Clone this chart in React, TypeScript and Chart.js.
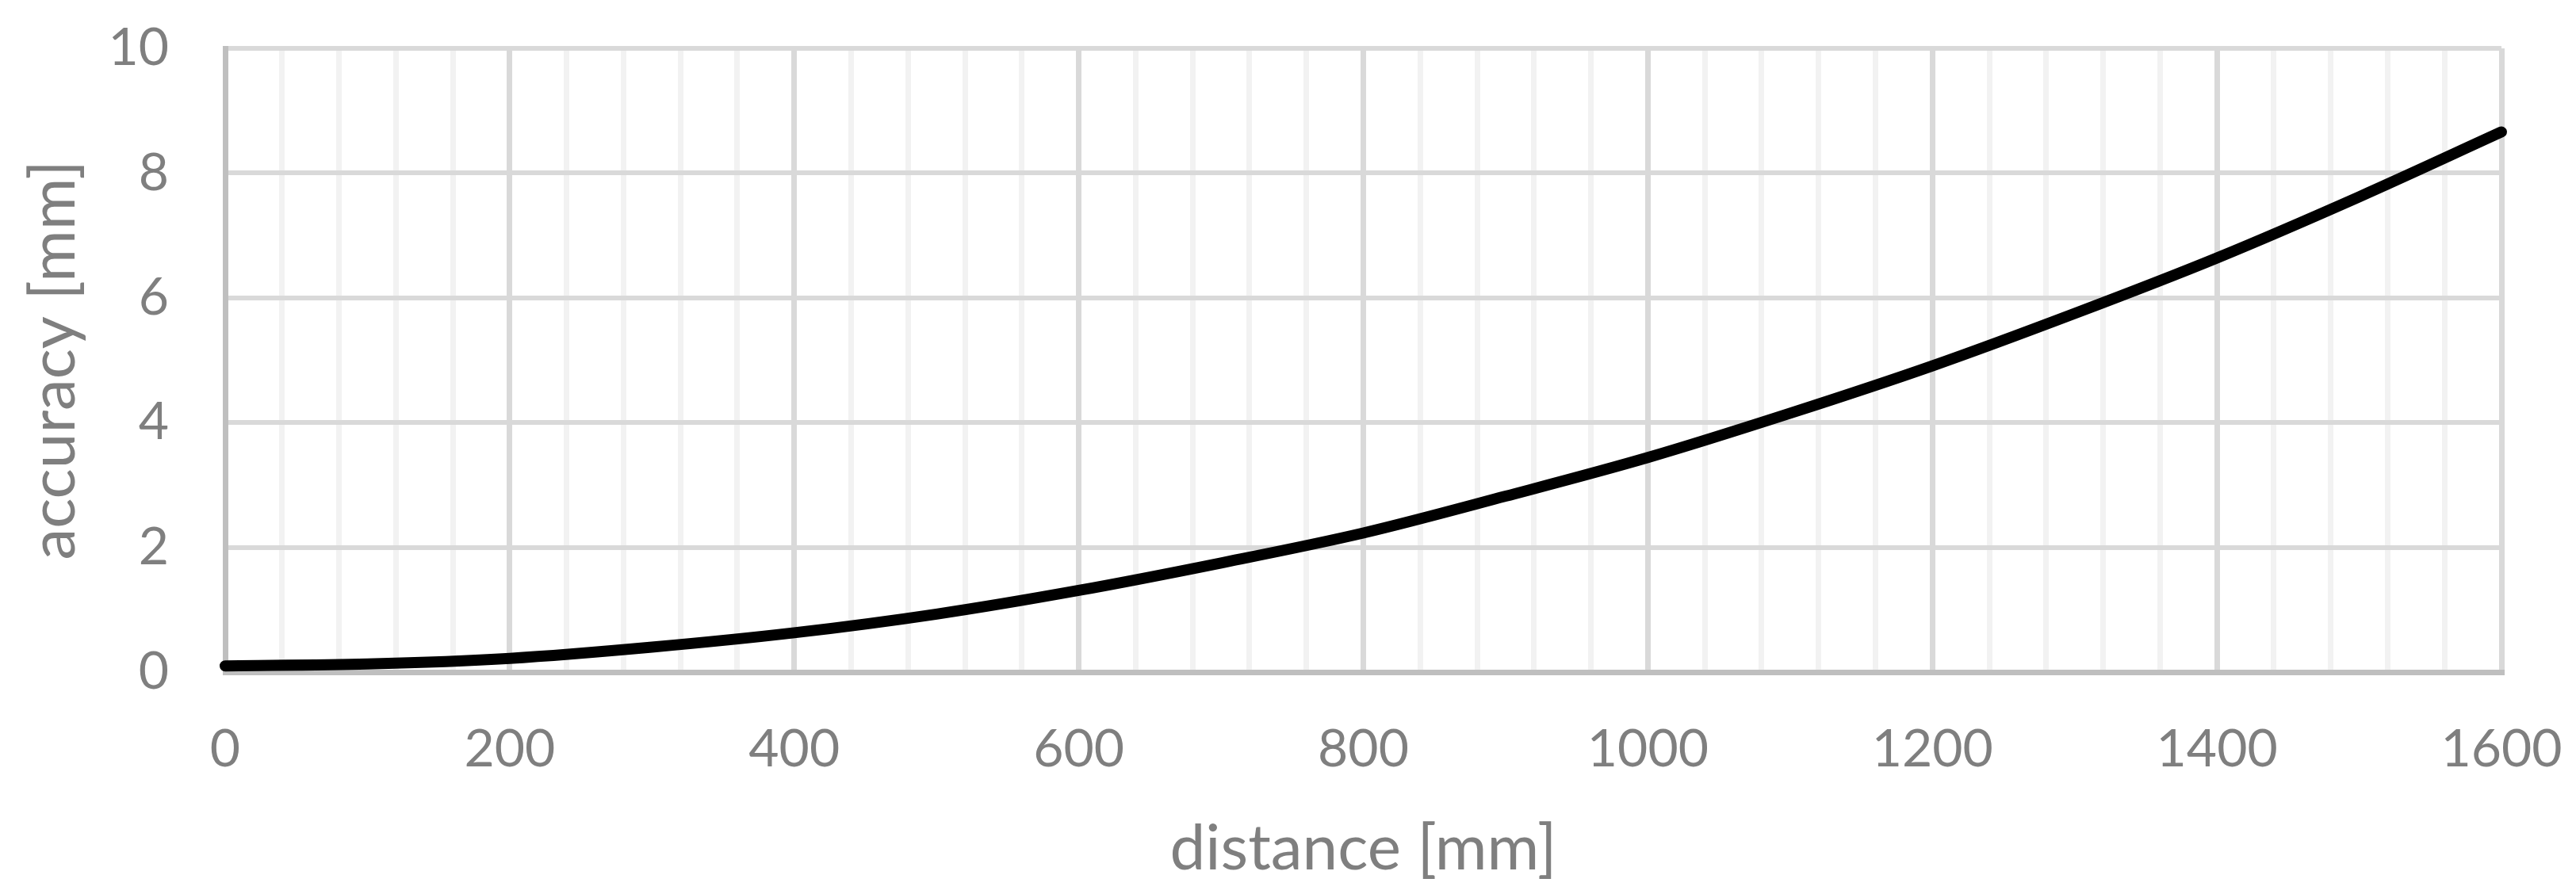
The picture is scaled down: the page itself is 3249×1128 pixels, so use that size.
import React, { useEffect, useRef } from "react";
import { Chart, registerables } from "chart.js";

Chart.register(...registerables);

// distance [mm]
const distances = [0, 100, 200, 300, 400, 500, 600, 700, 800, 900, 1000, 1100, 1200, 1300, 1400, 1500, 1600];
// accuracy [mm]
const accuracy = [0.10, 0.13, 0.22, 0.40, 0.63, 0.93, 1.31, 1.75, 2.23, 2.82, 3.44, 4.15, 4.91, 5.75, 6.64, 7.62, 8.66];

const xMin = 0;
const xMax = 1600;
const xMinorStep = 40;
const xLabelStep = 200;
const yMin = 0;
const yMax = 10;
const yStep = 2;

const xTitle = "distance [mm]";
const yTitle = "accuracy [mm]";

const FONT = "Lato, 'Open Sans', sans-serif";
const TEXT = "#7f7f7f";

const zeroPad = (s: any) => {
  s.paddingTop = 0;
  s.paddingBottom = 0;
  s.paddingLeft = 0;
  s.paddingRight = 0;
};

export default function App() {
  const ref = useRef<HTMLCanvasElement | null>(null);

  useEffect(() => {
    if (!ref.current) return;
    const points = distances.map((d, i) => ({ x: d, y: accuracy[i] }));
    const chart = new Chart(ref.current, {
      type: "line",
      data: {
        datasets: [
          {
            data: points,
            borderColor: "#000000",
            borderWidth: 14,
            borderCapStyle: "round",
            borderJoinStyle: "round",
            pointRadius: 0,
            fill: false,
            cubicInterpolationMode: "monotone",
            clip: false as any,
          },
        ],
      },
      options: {
        animation: false,
        responsive: false,
        devicePixelRatio: 1,
        layout: { padding: { left: 0, top: 61, right: 94, bottom: 0 } },
        plugins: { legend: { display: false }, tooltip: { enabled: false } },
        scales: {
          x: {
            type: "linear",
            min: xMin,
            max: xMax,
            afterFit: (s: any) => {
              s.height = 280;
              zeroPad(s);
            },
            ticks: {
              stepSize: xMinorStep,
              autoSkip: false,
              maxRotation: 0,
              minRotation: 0,
              padding: 58,
              color: TEXT,
              font: { family: FONT, size: 66 },
              callback: (v: any) => (Number(v) % xLabelStep === 0 ? String(v) : ""),
            },
            grid: {
              drawTicks: false,
              lineWidth: 7,
              color: (ctx: any) =>
                ctx.tick && ctx.tick.value % xLabelStep === 0 ? "#d9d9d9" : "#f2f2f2",
            },
            border: { display: true, color: "#bfbfbf", width: 7 },
            title: {
              display: true,
              text: xTitle,
              color: TEXT,
              font: { family: FONT, size: 80 },
              padding: { top: 0, bottom: 9 },
            },
          },
          y: {
            type: "linear",
            min: yMin,
            max: yMax,
            afterFit: (s: any) => {
              s.width = 284;
              zeroPad(s);
            },
            ticks: {
              stepSize: yStep,
              padding: 71,
              color: TEXT,
              font: { family: FONT, size: 66 },
            },
            grid: {
              drawTicks: false,
              lineWidth: 6,
              color: "#d9d9d9",
            },
            border: { display: true, color: "#bfbfbf", width: 7 },
            title: {
              display: true,
              text: yTitle,
              color: TEXT,
              font: { family: FONT, size: 80 },
              padding: { top: 20, bottom: 0 },
            },
          },
        },
      },
    });
    return () => chart.destroy();
  }, []);

  return (
    <div style={{ position: "absolute", left: 0, top: 0, width: 3249, height: 1128, background: "#fff" }}>
      <canvas ref={ref} width={3249} height={1128} style={{ display: "block" }} />
    </div>
  );
}
